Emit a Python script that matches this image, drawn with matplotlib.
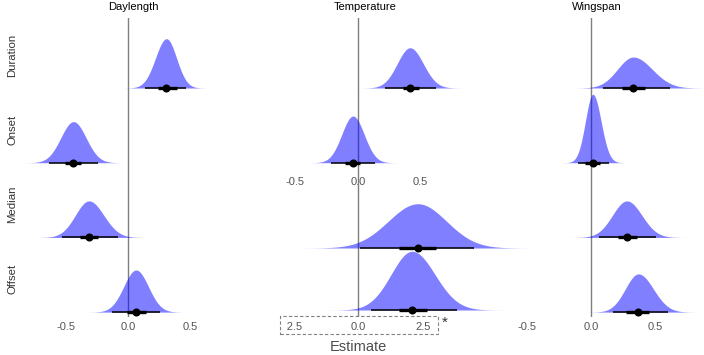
import numpy as np
import matplotlib
matplotlib.use("Agg")
import matplotlib.pyplot as plt
from matplotlib.patches import Rectangle
from matplotlib.transforms import Bbox, TransformedBbox, blended_transform_factory

plt.rcParams['font.family'] = ['Liberation Sans', 'DejaVu Sans']

# ---------------- data ----------------
rows = ["Duration", "Onset", "Median", "Offset"]
columns = ["Daylength", "Temperature", "Wingspan"]

day_median = [0.31, -0.44, -0.315, 0.065]
day_lo95 = [0.137, -0.64, -0.53, -0.13]
day_hi95 = [0.47, -0.24, -0.08, 0.26]
day_lo66 = [0.242, -0.508, -0.387, -0.008]
day_hi66 = [0.395, -0.379, -0.242, 0.145]

temp_median = [0.416, -0.04, 2.3, 2.08]
temp_lo95 = [0.216, -0.216, 0.08, 0.5]
temp_hi95 = [0.624, 0.136, 4.46, 3.8]
temp_lo66 = [0.36, -0.104, 1.58, 1.58]
temp_hi66 = [0.488, 0.016, 3.0, 2.65]

wing_median = [0.33, 0.015, 0.28, 0.37]
wing_lo95 = [0.09, -0.10, 0.06, 0.17]
wing_hi95 = [0.62, 0.14, 0.51, 0.60]
wing_lo66 = [0.242, -0.045, 0.21, 0.27]
wing_hi66 = [0.42, 0.07, 0.36, 0.45]

main_ticks = [-0.5, 0.0, 0.5]
main_ticklabels = ["-0.5", "0.0", "0.5"]
inset_ticks = [-2.5, 0.0, 2.5]
inset_ticklabels = ["-2.5", "0.0", "2.5"]

# ---------------- styling / layout ----------------
W, H = 704, 355
fig = plt.figure(figsize=(W / 100, H / 100), dpi=100)
FILL = (0.0, 0.0, 1.0)
TICKC = '#555555'

def add_ax(l, t, r, b):
    ax = fig.add_axes([l / W, 1 - b / H, (r - l) / W, (b - t) / H])
    ax.set_facecolor('none')
    for s in ax.spines.values():
        s.set_visible(False)
    ax.set_yticks([])
    ax.tick_params(axis='x', length=0, pad=3.5, labelsize=8, labelcolor=TICKC)
    return ax

def xlim_from(l, r, zero_px, px_per_unit):
    return ((l - zero_px) / px_per_unit, (r - zero_px) / px_per_unit)

def split_normal(x, m, lo, hi):
    sl = (m - lo) / 1.96
    sr = (hi - m) / 1.96
    A = 2.0 / (np.sqrt(2 * np.pi) * (sl + sr))
    s = np.where(x < m, sl, sr)
    return A * np.exp(-0.5 * ((x - m) / s) ** 2)

def halfeye(ax, pos, m, lo95, hi95, lo66, hi66, scale):
    sl = (m - lo95) / 1.96
    sr = (hi95 - m) / 1.96
    x = np.linspace(m - 4 * sl, m + 4 * sr, 500)
    d = split_normal(x, m, lo95, hi95) * scale
    ax.fill_between(x, pos, pos - d, color=FILL, alpha=0.5, lw=0,
                    clip_on=False, zorder=2)
    ax.plot([lo95, hi95], [pos, pos], color='black', lw=1.1,
            solid_capstyle='butt', zorder=4, clip_on=False)
    ax.plot([lo66, hi66], [pos, pos], color='black', lw=2.4,
            solid_capstyle='butt', zorder=4, clip_on=False)
    ax.plot([m], [pos], 'o', ms=4.8, color='black', zorder=5, clip_on=False)

ROW0, ROWSTEP = 88.0, 74.7       # main rows (pixels)
MAIN_SCALE = 10.5 / ROWSTEP      # density -> row units
IN0, INSTEP = 248.0, 62.0        # inset rows (pixels)
INSET_SCALE = 124.0 / INSTEP

def main_ylim(t, b):
    return ((b - ROW0) / ROWSTEP, (t - ROW0) / ROWSTEP)

def finish(ax, ticks, labels):
    ax.set_xticks(ticks)
    ax.set_xticklabels(labels)
    ax.axvline(0, color='#7f7f7f', lw=1.0, zorder=1)

# Daylength
ax_d = add_ax(16, 18, 250, 317)
ax_d.set_xlim(*xlim_from(16, 250, 128, 124))
ax_d.set_ylim(*main_ylim(18, 317))
for i in range(4):
    halfeye(ax_d, i, day_median[i], day_lo95[i], day_hi95[i],
            day_lo66[i], day_hi66[i], MAIN_SCALE)
finish(ax_d, main_ticks, main_ticklabels)

# Temperature (top rows)
ax_t = add_ax(270, 18, 460, 172)
ax_t.set_xlim(*xlim_from(270, 460, 358, 125))
ax_t.set_ylim(*main_ylim(18, 172))
for i in range(2):
    halfeye(ax_t, i, temp_median[i], temp_lo95[i], temp_hi95[i],
            temp_lo66[i], temp_hi66[i], MAIN_SCALE)
finish(ax_t, main_ticks, main_ticklabels)

# Temperature (bottom rows, different scale)
ax_ti = add_ax(270, 172, 460, 317)
ax_ti.set_xlim(*xlim_from(270, 460, 358, 26))
ax_ti.set_ylim((317 - IN0) / INSTEP, (172 - IN0) / INSTEP)
for j, i in enumerate([2, 3]):
    halfeye(ax_ti, j, temp_median[i], temp_lo95[i], temp_hi95[i],
            temp_lo66[i], temp_hi66[i], INSET_SCALE)
finish(ax_ti, inset_ticks, inset_ticklabels)
clip = TransformedBbox(Bbox([[287 / W, 1 - 334 / H], [438 / W, 1 - 316 / H]]),
                       fig.transFigure)
for lbl in ax_ti.get_xticklabels():
    lbl.set_clip_box(clip)
    lbl.set_clip_on(True)

# Wingspan
ax_w = add_ax(510, 18, 684, 317)
ax_w.set_xlim(*xlim_from(510, 684, 591, 128))
ax_w.set_ylim(*main_ylim(18, 317))
for i in range(4):
    halfeye(ax_w, i, wing_median[i], wing_lo95[i], wing_hi95[i],
            wing_lo66[i], wing_hi66[i], MAIN_SCALE)
finish(ax_w, main_ticks, main_ticklabels)

# column titles
for name, xc in zip(columns, [133, 365, 597]):
    fig.text(xc / W, 1 - 7 / H, name, ha='center', va='center',
             fontsize=8, color='black')

# row labels
tr = blended_transform_factory(fig.transFigure, ax_d.transData)
for i, name in enumerate(rows):
    fig.text(12 / W, i - 0.44, name, transform=tr, rotation=90,
             ha='center', va='center', fontsize=8.2, color='#333333')

# x label
fig.text(358 / W, 1 - 347 / H, "Estimate", ha='center', va='center',
         fontsize=10.5, color='#4d4d4d')

# dashed box around the inset axis and footnote marker
fig.add_artist(Rectangle((280 / W, 1 - 334 / H), 158 / W, 18 / H,
                         transform=fig.transFigure, fill=False,
                         linestyle=(0, (3, 2)), edgecolor='#808080', lw=0.8))
fig.text(445 / W, 1 - 323 / H, "*", ha='center', va='center',
         fontsize=11, color='#333333')

fig.savefig("out.png", dpi=100)
